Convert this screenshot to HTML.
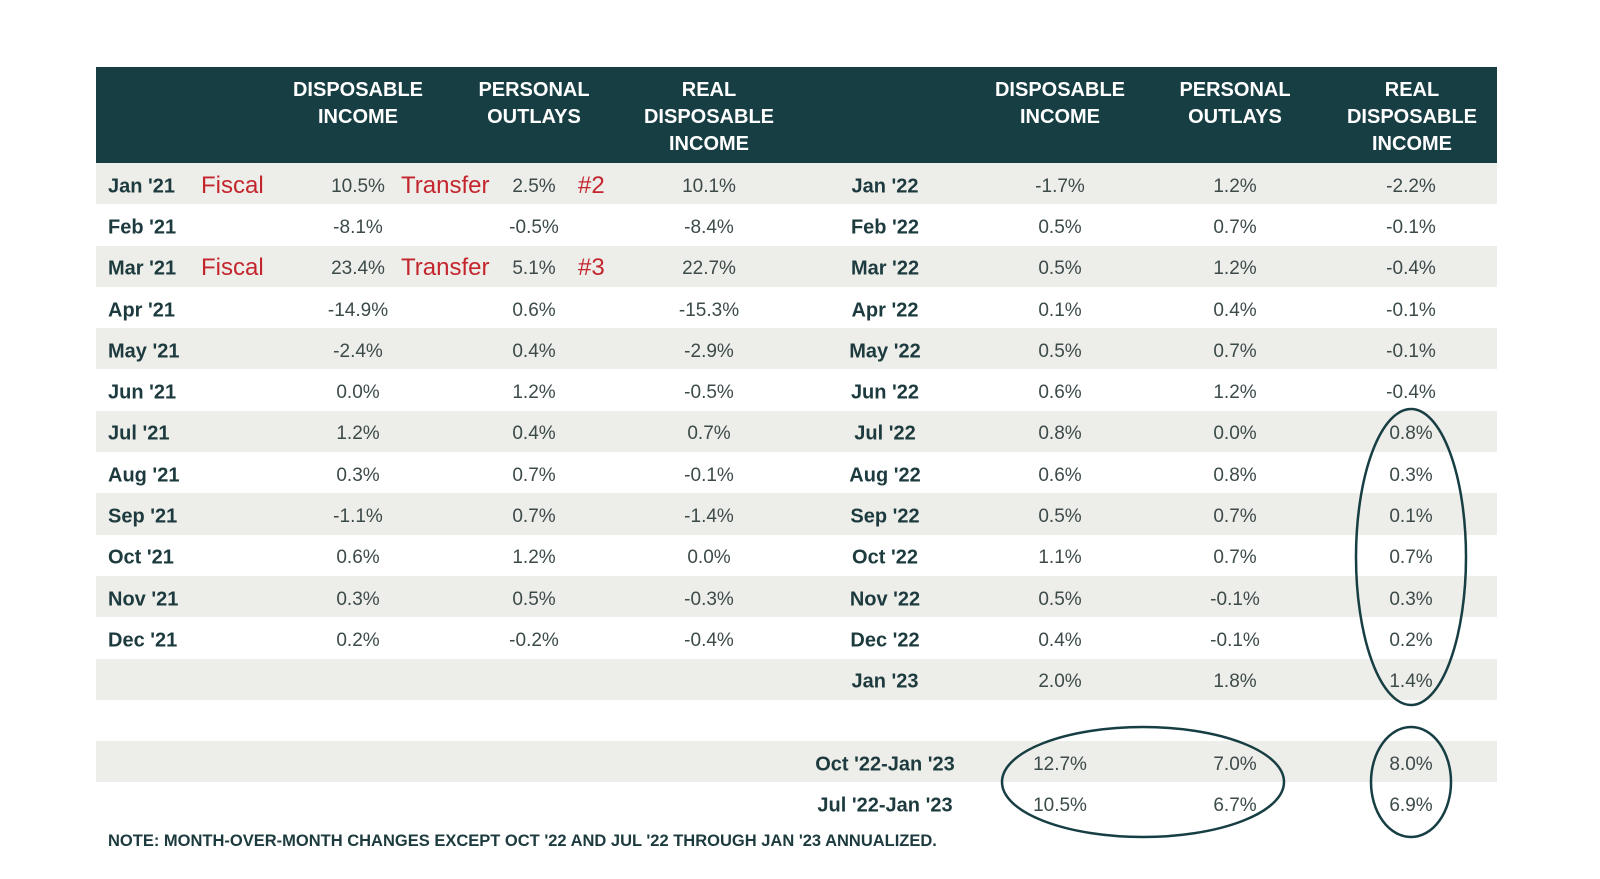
<!DOCTYPE html>
<html><head><meta charset="utf-8"><style>
body{margin:0;width:1600px;height:879px;background:#fff;position:relative;overflow:hidden;font-family:"Liberation Sans",sans-serif}
.abs{position:absolute}
.hdr{position:absolute;left:96px;top:67px;width:1401px;height:96px;background:#173e43}
.ht{position:absolute;color:#fff;font-weight:bold;font-size:20px;line-height:27px;text-align:center;width:180px;top:77px}
.row{position:absolute;left:96px;width:1401px;height:41.3px}
.c{position:absolute;transform:translate(-50%,-50%);color:#3c4a4a;font-size:19px;white-space:nowrap}
.l{position:absolute;transform:translateY(-50%);color:#1d3b3e;font-weight:bold;font-size:20px;white-space:nowrap}
.lc{position:absolute;transform:translate(-50%,-50%);color:#1d3b3e;font-weight:bold;font-size:20px;white-space:nowrap}
.r{position:absolute;transform:translateY(-50%);color:#c4262e;font-size:24px;white-space:nowrap}
</style></head><body>
<div class="hdr"></div>
<div class="ht" style="left:268px">DISPOSABLE<br>INCOME</div>
<div class="ht" style="left:444px">PERSONAL<br>OUTLAYS</div>
<div class="ht" style="left:619px">REAL<br>DISPOSABLE<br>INCOME</div>
<div class="ht" style="left:970px">DISPOSABLE<br>INCOME</div>
<div class="ht" style="left:1145px">PERSONAL<br>OUTLAYS</div>
<div class="ht" style="left:1322px">REAL<br>DISPOSABLE<br>INCOME</div>
<div id="body"></div>
<div class="abs" style="left:108px;top:832px;font-size:16.5px;font-weight:bold;color:#1d3b3e">NOTE: MONTH-OVER-MONTH CHANGES EXCEPT OCT '22 AND JUL '22 THROUGH JAN '23 ANNUALIZED.</div>
<svg class="abs" style="left:0;top:0" width="1600" height="879">
<ellipse cx="1411" cy="557" rx="55" ry="148" fill="none" stroke="#173e43" stroke-width="2.5"/>
<ellipse cx="1143" cy="782" rx="141" ry="55" fill="none" stroke="#173e43" stroke-width="2.5"/>
<ellipse cx="1411" cy="782" rx="40" ry="55" fill="none" stroke="#173e43" stroke-width="2.5"/>
</svg>
<script>
const left = ["Jan '21","Feb '21","Mar '21","Apr '21","May '21","Jun '21","Jul '21","Aug '21","Sep '21","Oct '21","Nov '21","Dec '21",""];
const leftDI = ["10.5%","-8.1%","23.4%","-14.9%","-2.4%","0.0%","1.2%","0.3%","-1.1%","0.6%","0.3%","0.2%",""];
const leftPO = ["2.5%","-0.5%","5.1%","0.6%","0.4%","1.2%","0.4%","0.7%","0.7%","1.2%","0.5%","-0.2%",""];
const leftRDI = ["10.1%","-8.4%","22.7%","-15.3%","-2.9%","-0.5%","0.7%","-0.1%","-1.4%","0.0%","-0.3%","-0.4%",""];
const right = ["Jan '22","Feb '22","Mar '22","Apr '22","May '22","Jun '22","Jul '22","Aug '22","Sep '22","Oct '22","Nov '22","Dec '22","Jan '23"];
const rightDI = ["-1.7%","0.5%","0.5%","0.1%","0.5%","0.6%","0.8%","0.6%","0.5%","1.1%","0.5%","0.4%","2.0%"];
const rightPO = ["1.2%","0.7%","1.2%","0.4%","0.7%","1.2%","0.0%","0.8%","0.7%","0.7%","-0.1%","-0.1%","1.8%"];
const rightRDI = ["-2.2%","-0.1%","-0.4%","-0.1%","-0.1%","-0.4%","0.8%","0.3%","0.1%","0.7%","0.3%","0.2%","1.4%"];
const sumLabels = ["Oct '22-Jan '23","Jul '22-Jan '23"];
const sumDI = ["12.7%","10.5%"];
const sumPO = ["7.0%","6.7%"];
const sumRDI = ["8.0%","6.9%"];
const notes = {0:["Fiscal","Transfer","#2"],2:["Fiscal","Transfer","#3"]};
const body=document.getElementById('body');
const T=163,H=41.3;
function mk(cls,x,y,txt){const d=document.createElement('div');d.className=cls;d.style.left=x+'px';d.style.top=y+'px';d.textContent=txt;body.appendChild(d);return d;}
function stripe(i,top){if(i%2==0){const s=document.createElement('div');s.className='row';s.style.top=top+'px';s.style.background='#edede9';


body.appendChild(s);}}
right.forEach((r,i)=>{
  const top=T+i*H, y=top+H/2+3;
  stripe(i,top);
  let e;
  e=mk('l',108,y,left[i]);
  
  
  e=mk('c',358,y,leftDI[i]);
  
  
  e=mk('c',534,y,leftPO[i]);
  
  
  e=mk('c',709,y,leftRDI[i]);
  
  
  e=mk('lc',885,y,r);
  
  
  e=mk('c',1060,y,rightDI[i]);
  
  
  e=mk('c',1235,y,rightPO[i]);
  
  
  e=mk('c',1411,y,rightRDI[i]);
  
  
  if(notes[i]){
    const n=notes[i];
    e=mk('r',201,y-1,n[0]);
    
    
    e=mk('r',401,y-1,n[1]);
    
    
    e=mk('r',578,y-1,n[2]);
    
    
  }
});
sumLabels.forEach((s,j)=>{
  const i=14+j, top=T+i*H, y=top+H/2+3;
  stripe(i,top);
  let e;
  e=mk('lc',885,y,s);
  
  
  e=mk('c',1060,y,sumDI[j]);
  
  
  e=mk('c',1235,y,sumPO[j]);
  
  
  e=mk('c',1411,y,sumRDI[j]);
  
  
});
</script>
</body></html>
